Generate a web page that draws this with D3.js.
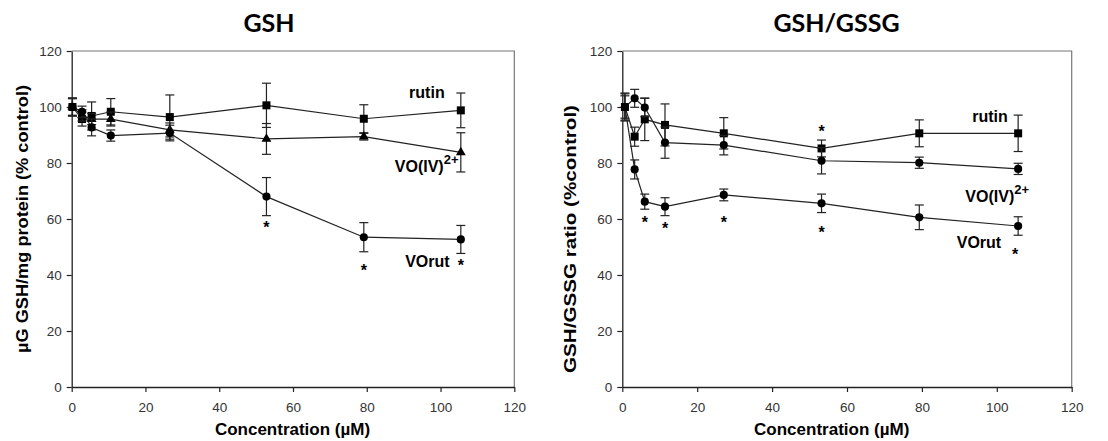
<!DOCTYPE html>
<html>
<head>
<meta charset="utf-8">
<script src="https://cdn.jsdelivr.net/npm/d3@7/dist/d3.min.js"></script>
<style>
  body { margin: 0; background: #fff; }
  svg { display: block; }
</style>
</head>
<body>
<div id="chart"></div>
<script>
// values (x positions as they sit on the printed axis)
var axisTicks = [0, 20, 40, 60, 80, 100, 120];

// GSH panel
var gshConc = [0.2, 2.8, 5.4, 10.6, 26.6, 52.8, 79.2, 105.5];
var gshRutin = [100, 95.7, 96.8, 98.3, 96.4, 100.6, 95.8, 98.8];
var gshRutinErr = [3.3, 2.5, 5, 4.7, 7.9, 7.9, 5, 6.2];
var gshVO = [100, 97, 95.7, 95.7, 91.8, 88.6, 89.4, 83.8];
var gshVOErr = [3, 2, 2, 2.5, 2.5, 5.5, 1.2, 7];
var gshVOrut = [100, 98.3, 92.7, 89.8, 90.7, 68.0, 53.5, 52.7];
var gshVOrutErr = [3, 2, 3, 2, 2.8, 6.8, 5.2, 5];
var gshStarConc = [52.8, 79.2, 105.5];
var gshStarVal = [58.2, 42.9, 44.8];

// GSH/GSSG panel
var ratioConc = [0.7, 3.3, 6.0, 11.4, 27.1, 53.2, 79.3, 105.7];
var ratioRutin = [100, 89.4, 95.6, 93.6, 90.6, 85.2, 90.6, 90.6];
var ratioRutinErr = [4.7, 3.4, 7.6, 7.5, 5.6, 3, 4.8, 6.5];
var ratioVO = [100, 103.1, 99.8, 87.3, 86.4, 80.8, 80.1, 77.9];
var ratioVOErr = [5, 3.2, 3.3, 5.6, 3.5, 4.7, 2, 2];
var ratioVOrut = [100, 77.7, 66.2, 64.4, 68.6, 65.6, 60.6, 57.5];
var ratioVOrutErr = [4, 3.4, 2.7, 3.2, 2.1, 3.3, 4.4, 3.3];
var ratioStarConc = [6.0, 11.4, 27.1, 53.2, 53.2, 104.9];
var ratioStarVal = [60, 57.9, 60, 56.4, 92.4, 48.7];

var W = 1108, H = 441;
var svg = d3.select("#chart").append("svg")
    .attr("width", W)
    .attr("height", H);

var sansBold = "Arial, 'Liberation Sans', sans-serif";

function panel(opt) {
    var x = d3.scaleLinear().domain([0, 120]).range([opt.left, opt.right]);
    var y = d3.scaleLinear().domain([0, 120]).range([387, 51]);
    var g = svg.append("g");

    // frame: top and right in grey
    g.append("path")
        .attr("d", "M" + x(0) + "," + y(120) + "H" + x(120) + "V" + y(0))
        .attr("fill", "none")
        .attr("stroke", "#777")
        .attr("stroke-width", 1.2);

    var yAxis = g.append("g")
        .attr("transform", "translate(" + x(0) + ",0)")
        .call(d3.axisLeft(y).tickValues(axisTicks).tickSize(5).tickPadding(5).tickSizeOuter(0));
    var xAxis = g.append("g")
        .attr("transform", "translate(0," + y(0) + ")")
        .call(d3.axisBottom(x).tickValues(axisTicks).tickSize(5).tickPadding(10).tickSizeOuter(0));
    [yAxis, xAxis].forEach(function (a) {
        a.select(".domain").attr("stroke", "#222").attr("stroke-width", 1.3);
        a.selectAll(".tick line").attr("stroke", "#222").attr("stroke-width", 1.2);
        a.selectAll(".tick text")
            .attr("fill", "#333")
            .style("font-family", "Arial, 'Liberation Sans', sans-serif")
            .style("font-size", "13.5px");
    });

    // series
    opt.series.forEach(function (s) {
        var pts = opt.conc.map(function (c, i) { return { c: c, v: s.vals[i], e: s.errs[i] }; });
        var sg = g.append("g");

        sg.append("path")
            .datum(pts)
            .attr("fill", "none")
            .attr("stroke", "#222")
            .attr("stroke-width", 1.2)
            .attr("d", d3.line().x(function (d) { return x(d.c); }).y(function (d) { return y(d.v); }));

        var eb = sg.selectAll(".err").data(pts).enter().append("g").attr("class", "err");
        eb.append("line")
            .attr("x1", function (d) { return x(d.c); })
            .attr("x2", function (d) { return x(d.c); })
            .attr("y1", function (d) { return y(d.v - d.e); })
            .attr("y2", function (d) { return y(d.v + d.e); });
        eb.append("line")
            .attr("x1", function (d) { return x(d.c) - 4.5; })
            .attr("x2", function (d) { return x(d.c) + 4.5; })
            .attr("y1", function (d) { return y(d.v + d.e); })
            .attr("y2", function (d) { return y(d.v + d.e); });
        eb.append("line")
            .attr("x1", function (d) { return x(d.c) - 4.5; })
            .attr("x2", function (d) { return x(d.c) + 4.5; })
            .attr("y1", function (d) { return y(d.v - d.e); })
            .attr("y2", function (d) { return y(d.v - d.e); });
        eb.selectAll("line").attr("stroke", "#222").attr("stroke-width", 1.2);

        sg.selectAll(".mk").data(pts).enter().append("path")
            .attr("class", "mk")
            .attr("transform", function (d) { return "translate(" + x(d.c) + "," + y(d.v) + ")"; })
            .attr("d", d3.symbol().type(s.shape).size(s.size))
            .attr("fill", "#000");
    });

    // significance stars
    g.selectAll(".star").data(opt.starConc).enter().append("text")
        .attr("x", function (d) { return x(d); })
        .attr("y", function (d, i) { return y(opt.starVal[i]) + 9; })
        .attr("text-anchor", "middle")
        .style("font-family", sansBold)
        .style("font-weight", "bold")
        .style("font-size", "16px")
        .text("*");

    // series labels
    opt.labels.forEach(function (l) {
        var t = g.append("text")
            .attr("x", x(l.c))
            .attr("y", y(l.v))
            .attr("text-anchor", l.anchor)
            .style("font-family", sansBold)
            .style("font-weight", "bold")
            .style("font-size", "16px");
        t.append("tspan").text(l.text);
        if (l.sup) {
            t.append("tspan").attr("dy", -8).style("font-size", "13px").text(l.sup);
        }
    });

    // titles
    svg.append("text")
        .attr("x", opt.titleX)
        .attr("y", 32)
        .attr("text-anchor", "middle")
        .style("font-family", "Lato, 'Open Sans', sans-serif")
        .style("font-weight", "bold")
        .style("font-size", "25px")
        .text(opt.title);

    svg.append("text")
        .attr("x", opt.xLabelX)
        .attr("y", 435)
        .attr("text-anchor", "middle")
        .style("font-family", sansBold)
        .style("font-weight", "bold")
        .style("font-size", "17px")
        .text("Concentration (\u00b5M)");

    svg.append("text")
        .attr("transform", "translate(" + opt.yLabelX + "," + opt.yLabelY + ") rotate(-90)")
        .attr("text-anchor", "middle")
        .attr("textLength", 268)
        .attr("lengthAdjust", "spacingAndGlyphs")
        .style("font-family", sansBold)
        .style("font-weight", "bold")
        .style("font-size", "17px")
        .text(opt.yLabel);
}

panel({
    left: 71.7, right: 514.3,
    conc: gshConc,
    series: [
        { vals: gshRutin, errs: gshRutinErr, shape: d3.symbolSquare, size: 64 },
        { vals: gshVO, errs: gshVOErr, shape: d3.symbolTriangle, size: 42 },
        { vals: gshVOrut, errs: gshVOrutErr, shape: d3.symbolCircle, size: 52 }
    ],
    starConc: gshStarConc, starVal: gshStarVal,
    labels: [
        { text: "rutin", c: 96.3, v: 103.2, anchor: "middle" },
        { text: "VO(IV)", sup: "2+", c: 87.6, v: 76.8, anchor: "start" },
        { text: "VOrut", c: 90.4, v: 42.9, anchor: "start" }
    ],
    title: "GSH", titleX: 269,
    xLabelX: 292.5,
    yLabel: "\u00b5G GSH/mg protein (% control)", yLabelX: 28, yLabelY: 219
});

panel({
    left: 622.3, right: 1071.7,
    conc: ratioConc,
    series: [
        { vals: ratioRutin, errs: ratioRutinErr, shape: d3.symbolSquare, size: 64 },
        { vals: ratioVO, errs: ratioVOErr, shape: d3.symbolCircle, size: 52 },
        { vals: ratioVOrut, errs: ratioVOrutErr, shape: d3.symbolCircle, size: 52 }
    ],
    starConc: ratioStarConc, starVal: ratioStarVal,
    labels: [
        { text: "rutin", c: 98.2, v: 94.8, anchor: "middle" },
        { text: "VO(IV)", sup: "2+", c: 91.6, v: 66.2, anchor: "start" },
        { text: "VOrut", c: 89.3, v: 49.75, anchor: "start" }
    ],
    title: "GSH/GSSG", titleX: 836.5,
    xLabelX: 831.7,
    yLabel: "GSH/GSSG ratio (%control)", yLabelX: 575.5, yLabelY: 239
});
</script>
</body>
</html>
